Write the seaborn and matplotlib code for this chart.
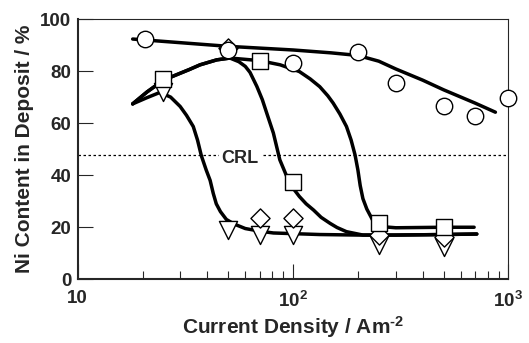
import numpy as np
import pandas as pd
import matplotlib
matplotlib.use("Agg")
import matplotlib.pyplot as plt
import seaborn as sns
from matplotlib.ticker import LogLocator, FixedLocator, NullFormatter, FixedFormatter

# ---------------- data ----------------
circle_x = [20.5, 50, 100, 200, 300, 500, 700, 1000]
circle_y = [92.3, 88.2, 83.1, 87.2, 75.4, 66.7, 62.9, 69.5]

square_x = [25, 70, 100, 250, 500]
square_y = [77.0, 83.7, 37.2, 21.8, 20.2]

diamond_x = [50, 70, 100, 250, 500]
diamond_y = [88.8, 23.5, 23.5, 17.0, 16.2]

triangle_x = [25, 50, 70, 100, 250, 500]
triangle_y = [72.0, 19.0, 17.0, 17.0, 13.2, 12.5]

# hand-drawn trend curves
curveA_x = [18, 30, 50, 100, 150, 200, 250, 300, 400, 500, 700, 870]
curveA_y = [92.3, 90.9, 89.5, 88.1, 87.0, 86.0, 83.8, 80.8, 76.5, 72.8, 67.7, 64.2]

curveB_x = [18, 21, 24.1, 27, 29.9, 32, 34.4, 36, 37.5, 39.5, 41.2, 42.6, 44, 46, 49, 53, 60, 70, 81, 133, 200, 300, 500, 713]
curveB_y = [67.4, 69.8, 71.8, 70.0, 66.4, 63.0, 58.7, 53.5, 47.5, 42.0, 38.0, 33.0, 29.0, 26.0, 23.0, 21.3, 19.5, 18.5, 17.8, 17.2, 17.0, 17.0, 17.2, 17.4]

curveC_x = [18, 21, 25, 28.8, 33, 37, 44.2, 50.9, 56, 60, 63.1, 67.9, 72, 75.5, 81, 86.8, 93.5, 100, 107, 115, 124.5, 135, 148.5, 160, 177, 211, 300, 500, 713]
curveC_y = [67.4, 72.0, 76.5, 78.6, 80.6, 82.4, 84.3, 85.0, 83.6, 81.8, 79.5, 74.1, 69.0, 63.8, 56.2, 45.9, 39.5, 35.0, 31.8, 29.0, 26.6, 23.8, 21.5, 19.9, 18.3, 17.0, 17.0, 17.2, 17.4]

curveD_x = [18, 21, 25, 28.8, 33, 37, 44.2, 50.9, 60, 70, 87.1, 107, 120, 133, 145, 153.5, 165, 177, 186, 194, 200, 205, 211, 220, 235, 253, 300, 500, 693]
curveD_y = [67.4, 72.0, 76.5, 78.6, 80.6, 82.4, 84.3, 85.0, 84.5, 84.0, 82.4, 79.8, 77.0, 74.0, 70.5, 67.7, 63.5, 58.7, 53.5, 47.8, 42.0, 36.0, 31.0, 27.0, 22.5, 20.3, 19.8, 20.0, 20.0]

crl_value = 47.8
crl_label = "CRL"
xtick_values = [10, 100, 1000]
xtick_labels = ["10", r"$10^{2}$", r"$10^{3}$"]
ytick_values = [0, 20, 40, 60, 80, 100]

# ---------------- build tables ----------------
curves = pd.concat([
    pd.DataFrame({"x": curveA_x, "y": curveA_y, "curve": "A"}),
    pd.DataFrame({"x": curveB_x, "y": curveB_y, "curve": "B"}),
    pd.DataFrame({"x": curveC_x, "y": curveC_y, "curve": "C"}),
    pd.DataFrame({"x": curveD_x, "y": curveD_y, "curve": "D"}),
], ignore_index=True)

# ---------------- style ----------------
sns.set_style("ticks")
plt.rcParams["font.family"] = ["Liberation Sans", "DejaVu Sans"]
plt.rcParams["font.weight"] = "bold"
plt.rcParams["mathtext.fontset"] = "custom"
plt.rcParams["mathtext.rm"] = "Liberation Sans:bold"
plt.rcParams["mathtext.bf"] = "Liberation Sans:bold"
plt.rcParams["mathtext.it"] = "Liberation Sans:bold"
plt.rcParams["mathtext.sf"] = "Liberation Sans:bold"
plt.rcParams["mathtext.default"] = "rm"

fig = plt.figure(figsize=(5.29, 3.43), dpi=100)
ax = fig.add_axes([0.1469, 0.1857, 0.8142, 0.7589])
ax.set_xscale("log")

sns.lineplot(data=curves, x="x", y="y", units="curve", estimator=None, sort=False,
             color="black", linewidth=2.5, ax=ax, zorder=2,
             solid_joinstyle="round", solid_capstyle="round")

ax.axhline(crl_value, color="black", linewidth=0.9, linestyle=(0, (2.0, 2.0)), zorder=1)
ax.text(56.8, crl_value - 1.2, crl_label, ha="center", va="center", fontsize=13,
        fontweight="bold", zorder=1.5,
        bbox=dict(facecolor="white", edgecolor="none", pad=2.0))

common = dict(color="white", edgecolor="black", linewidth=1.0, clip_on=False, ax=ax, legend=False)
sns.scatterplot(x=triangle_x, y=triangle_y, marker="v", s=170, zorder=3, **common)
sns.scatterplot(x=diamond_x, y=diamond_y, marker="D", s=95, zorder=4, **common)
sns.scatterplot(x=square_x, y=square_y, marker="s", s=130, zorder=5, **common)
sns.scatterplot(x=circle_x, y=circle_y, marker="o", s=140, zorder=6, **common)

ax.set_xlim(10, 1000)
ax.set_ylim(0, 100)

ax.xaxis.set_major_locator(FixedLocator(xtick_values))
ax.xaxis.set_major_formatter(FixedFormatter(xtick_labels))
ax.xaxis.set_minor_locator(LogLocator(base=10, subs=np.arange(2, 10)))
ax.xaxis.set_minor_formatter(NullFormatter())
ax.set_yticks(ytick_values)

ax.tick_params(axis="both", which="major", direction="in", length=11, width=0.8,
               labelsize=13.5, top=False, right=False)
ax.tick_params(axis="x", which="major", pad=8)
ax.tick_params(axis="y", which="major", pad=4.5)
ax.tick_params(axis="x", which="minor", direction="in", length=6, width=0.8, top=False)
for lab in ax.get_xticklabels() + ax.get_yticklabels():
    lab.set_fontweight("bold")

for side in ["left", "bottom"]:
    ax.spines[side].set_linewidth(1.5)
for side in ["top", "right"]:
    ax.spines[side].set_visible(True)
    ax.spines[side].set_linewidth(0.8)

ax.set_xlabel(r"Current Density / Am$^{\text{-2}}$", fontsize=15, fontweight="bold")
ax.set_ylabel("Ni Content in Deposit / %", fontsize=15, fontweight="bold")
ax.xaxis.set_label_coords(0.5, -0.135)
ax.yaxis.set_label_coords(-0.102, 0.5)

fig.savefig("out.png", dpi=100)
